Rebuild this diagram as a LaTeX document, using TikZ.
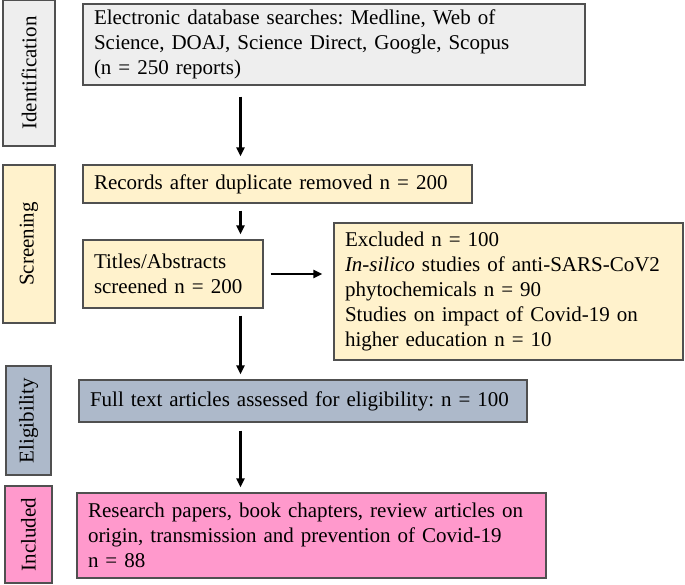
\documentclass[tikz,border=0pt]{standalone}
\usepackage{fontspec}
\setmainfont{Liberation Serif}
\usetikzlibrary{arrows.meta,positioning}
\definecolor{idgray}{HTML}{EEEEEE}
\definecolor{scrcream}{HTML}{FFF2CC}
\definecolor{elgblue}{HTML}{ADB9CA}
\definecolor{incpink}{HTML}{FF99CC}
\definecolor{edgegray}{HTML}{505050}
\frenchspacing

\begin{document}
\begin{tikzpicture}[x=1pt,y=-1pt,
  box/.style={draw=edgegray,line width=1.3pt,align=left,inner xsep=11pt,inner ysep=0pt,
    font=\fontsize{21}{25}\selectfont},
  phase/.style={draw=edgegray,line width=1.3pt,rotate=90,inner sep=0pt,
    font=\fontsize{21}{25}\selectfont},
  arr/.style={-{Triangle[length=9pt,width=8pt]},line width=2.3pt}]
  \useasboundingbox (0,0) rectangle (685,585);

  % phases
  \node[phase,fill=idgray,minimum width=146pt,minimum height=52pt] (pid) at (29,73) {Identification};
  \node[phase,fill=scrcream,minimum width=158pt,minimum height=52pt] (pscr) at (29,244) {Screening};
  \node[phase,fill=elgblue,minimum width=109pt,minimum height=45pt] (pelg) at (28.5,420.5) {Eligibility};
  \node[phase,fill=incpink,minimum width=97pt,minimum height=47pt] (pinc) at (28.5,534.5) {Included};

  % boxes
  \node[box,fill=idgray,text width=480pt,minimum height=81pt] (db) at (334,44.5)
    {Electronic database searches: Medline, Web of\\Science, DOAJ, Science Direct, Google, Scopus\\(n = 250 reports)};
  \node[box,fill=scrcream,text width=367pt,minimum height=38pt] (rec) at (277.5,184)
    {Records after duplicate removed n = 200};
  \node[box,fill=scrcream,text width=158pt,minimum height=68pt] (tit) at (173,274)
    {Titles/Abstracts\\screened n = 200};
  \node[box,fill=scrcream,text width=327pt,minimum height=137pt] (exc) at (508.5,291.5)
    {Excluded n = 100\\\textit{In-silico} studies of anti-SARS-CoV2\\phytochemicals n = 90\\Studies on impact of Covid-19 on\\higher education n = 10};
  \node[box,fill=elgblue,text width=426pt,minimum height=42pt] (full) at (303,401)
    {Full text articles assessed for eligibility: n = 100};
  \node[box,fill=incpink,text width=447pt,minimum height=85pt] (res) at (311.5,535.5)
    {Research papers, book chapters, review articles on\\origin, transmission and prevention of Covid-19\\n = 88};

  \coordinate (spine) at (240.5,0);
  \path[arr]
  (db.south -| spine)
  edge [shorten <=11pt,shorten >=8pt] (rec.north -| spine)
  (rec.south -| spine)
  edge [shorten <=7pt,shorten >=5pt] (tit.north -| spine)
  (tit.south -| spine)
  edge [shorten <=7pt,shorten >=5pt] (full.north -| spine)
  (full.south -| spine)
  edge [shorten <=8pt,shorten >=5pt] (res.north -| spine)
  (tit.east)
  edge [shorten <=7pt,shorten >=11pt] (exc.west |- tit.east)
  ;
\end{tikzpicture}
\end{document}
